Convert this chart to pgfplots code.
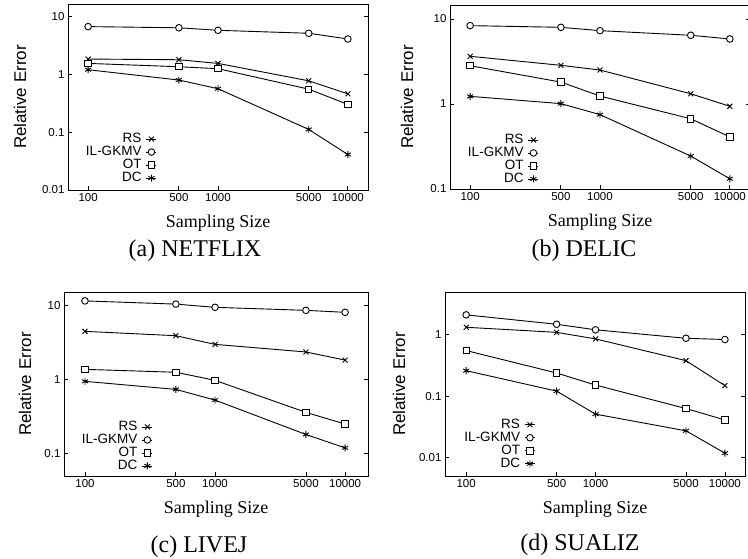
\documentclass[border=0pt]{standalone}
\usepackage{pgfplots}
\pgfplotsset{compat=1.18}
\usepackage{fontspec}
\setmainfont{Liberation Sans}
\newfontfamily\serifont{Liberation Serif}
\pgfplotsset{
  legend image code/.code={\path (-4pt,-5pt); \draw[mark repeat=2,mark phase=2,#1] plot coordinates {(0pt,0pt) (5pt,0pt) (10pt,0pt)};},
  scale only axis,
  width=300pt,
  xtick={100,500,1000,5000,10000},
  xticklabels={100,500,1000,5000,10000},
  xtick pos=left, ytick pos=both,
  tick align=inside,
  major tick length=4pt,
  xminorticks=false, yminorticks=false,
  axis line style={line width=0.8pt},
  every tick/.style={black, line width=0.8pt},
  tick label style={font=\fontsize{11.5}{13}\selectfont},
  /pgf/number format/assume math mode=true,
  xlabel style={font=\serifont\fontsize{18}{20}\selectfont, anchor=center},
  ylabel style={font=\fontsize{17}{19}\selectfont, anchor=center},
  legend plot pos=right,
  legend cell align=right,
  legend style={draw=none, fill=none, inner sep=0pt, anchor=north east,
    font=\fontsize{13.5}{13.5}\selectfont, row sep=0pt,
    nodes={inner sep=0.5pt, text height=9.5pt, text depth=2.5pt}},
  every axis plot/.append style={black, line width=0.9pt},
}
\begin{document}
\begin{tikzpicture}
\useasboundingbox (0,0) rectangle (748pt,-558pt);
\clip (0,0) rectangle (748pt,-558pt);
% (a) NETFLIX
\begin{loglogaxis}[anchor=north west, at={(68pt,-4pt)}, height=186pt,
  xmin=70, xmax=14300,
  ymin=0.01, ymax=16.2,
  ytick={0.01,0.1,1,10}, yticklabels={0.01,0.1,1,10},
  xlabel={Sampling Size}, ylabel={Relative Error},
  xlabel style={at={(axis description cs:0.5,-0.176)}},
  ylabel style={at={(axis description cs:-0.16,0.5)}},
  legend style={at={(axis description cs:0.297,0.31)}}]
\addplot[mark=x, mark size=3.5pt, mark options={solid}] coordinates {(100,1.82) (500,1.77) (1000,1.53) (5000,0.766) (10000,0.456)};
\addlegendentry{RS}
\addplot[mark=*, mark size=3.3pt, mark options={solid, fill=white}] coordinates {(100,6.6) (500,6.3) (1000,5.7) (5000,5.06) (10000,4.04)};
\addlegendentry{IL-GKMV}
\addplot[mark=square*, mark size=3.2pt, mark options={solid, fill=white}] coordinates {(100,1.53) (500,1.34) (1000,1.24) (5000,0.55) (10000,0.30)};
\addlegendentry{OT}
\addplot[mark=asterisk, mark size=3.5pt, mark options={solid}] coordinates {(100,1.19) (500,0.79) (1000,0.56) (5000,0.111) (10000,0.041)};
\addlegendentry{DC}
\end{loglogaxis}
% (b) DELIC
\begin{loglogaxis}[anchor=north west, at={(450pt,-5pt)}, height=184pt,
  xmin=70, xmax=14300,
  ymin=0.1, ymax=14.6,
  ytick={0.1,1,10}, yticklabels={0.1,1,10},
  xlabel={Sampling Size}, ylabel={Relative Error},
  xlabel style={at={(axis description cs:0.5,-0.178)}},
  ylabel style={at={(axis description cs:-0.143,0.5)}},
  legend style={at={(axis description cs:0.297,0.303)}}]
\addplot[mark=x, mark size=3.5pt, mark options={solid}] coordinates {(100,3.64) (500,2.85) (1000,2.51) (5000,1.32) (10000,0.94)};
\addlegendentry{RS}
\addplot[mark=*, mark size=3.3pt, mark options={solid, fill=white}] coordinates {(100,8.35) (500,7.98) (1000,7.29) (5000,6.43) (10000,5.82)};
\addlegendentry{IL-GKMV}
\addplot[mark=square*, mark size=3.2pt, mark options={solid, fill=white}] coordinates {(100,2.82) (500,1.81) (1000,1.24) (5000,0.67) (10000,0.41)};
\addlegendentry{OT}
\addplot[mark=asterisk, mark size=3.5pt, mark options={solid}] coordinates {(100,1.23) (500,1.01) (1000,0.75) (5000,0.244) (10000,0.132)};
\addlegendentry{DC}
\end{loglogaxis}
% (c) LIVEJ
\begin{loglogaxis}[anchor=north west, at={(64pt,-292pt)}, height=184pt, width=304pt,
  xmin=69, xmax=15000,
  ymin=0.05, ymax=15.3,
  ytick={0.1,1,10}, yticklabels={0.1,1,10},
  xlabel={Sampling Size}, ylabel={Relative Error},
  xlabel style={at={(axis description cs:0.5,-0.178)}},
  ylabel style={at={(axis description cs:-0.128,0.5)}},
  legend style={at={(axis description cs:0.293,0.303)}}]
\addplot[mark=x, mark size=3.5pt, mark options={solid}] coordinates {(100,4.5) (500,3.93) (1000,3.0) (5000,2.37) (10000,1.84)};
\addlegendentry{RS}
\addplot[mark=*, mark size=3.3pt, mark options={solid, fill=white}] coordinates {(100,11.6) (500,10.5) (1000,9.5) (5000,8.65) (10000,8.13)};
\addlegendentry{IL-GKMV}
\addplot[mark=square*, mark size=3.2pt, mark options={solid, fill=white}] coordinates {(100,1.38) (500,1.26) (1000,0.98) (5000,0.362) (10000,0.252)};
\addlegendentry{OT}
\addplot[mark=asterisk, mark size=3.5pt, mark options={solid}] coordinates {(100,0.95) (500,0.74) (1000,0.53) (5000,0.182) (10000,0.12)};
\addlegendentry{DC}
\end{loglogaxis}
% (d) SUALIZ
\begin{loglogaxis}[anchor=north west, at={(445pt,-292pt)}, height=184pt,
  xmin=68.6, xmax=14300,
  ymin=0.005, ymax=5.0,
  ytick={0.01,0.1,1}, yticklabels={0.01,0.1,1},
  xlabel={Sampling Size}, ylabel={Relative Error},
  xlabel style={at={(axis description cs:0.5,-0.178)}},
  ylabel style={at={(axis description cs:-0.153,0.5)}},
  legend style={at={(axis description cs:0.302,0.315)}}]
\addplot[mark=x, mark size=3.5pt, mark options={solid}] coordinates {(100,1.33) (500,1.1) (1000,0.86) (5000,0.38) (10000,0.149)};
\addlegendentry{RS}
\addplot[mark=*, mark size=3.3pt, mark options={solid, fill=white}] coordinates {(100,2.12) (500,1.49) (1000,1.21) (5000,0.88) (10000,0.84)};
\addlegendentry{IL-GKMV}
\addplot[mark=square*, mark size=3.2pt, mark options={solid, fill=white}] coordinates {(100,0.555) (500,0.239) (1000,0.152) (5000,0.063) (10000,0.041)};
\addlegendentry{OT}
\addplot[mark=asterisk, mark size=3.5pt, mark options={solid}] coordinates {(100,0.261) (500,0.121) (1000,0.051) (5000,0.0273) (10000,0.0118)};
\addlegendentry{DC}
\end{loglogaxis}
\node[font=\serifont\fontsize{24}{26}\selectfont] at (195pt,-251pt) {(a) NETFLIX};
\node[font=\serifont\fontsize{24}{26}\selectfont] at (584pt,-251pt) {(b) DELIC};
\node[font=\serifont\fontsize{24}{26}\selectfont] at (199pt,-547pt) {(c) LIVEJ};
\node[font=\serifont\fontsize{24}{26}\selectfont] at (580pt,-545pt) {(d) SUALIZ};
\end{tikzpicture}
\end{document}
